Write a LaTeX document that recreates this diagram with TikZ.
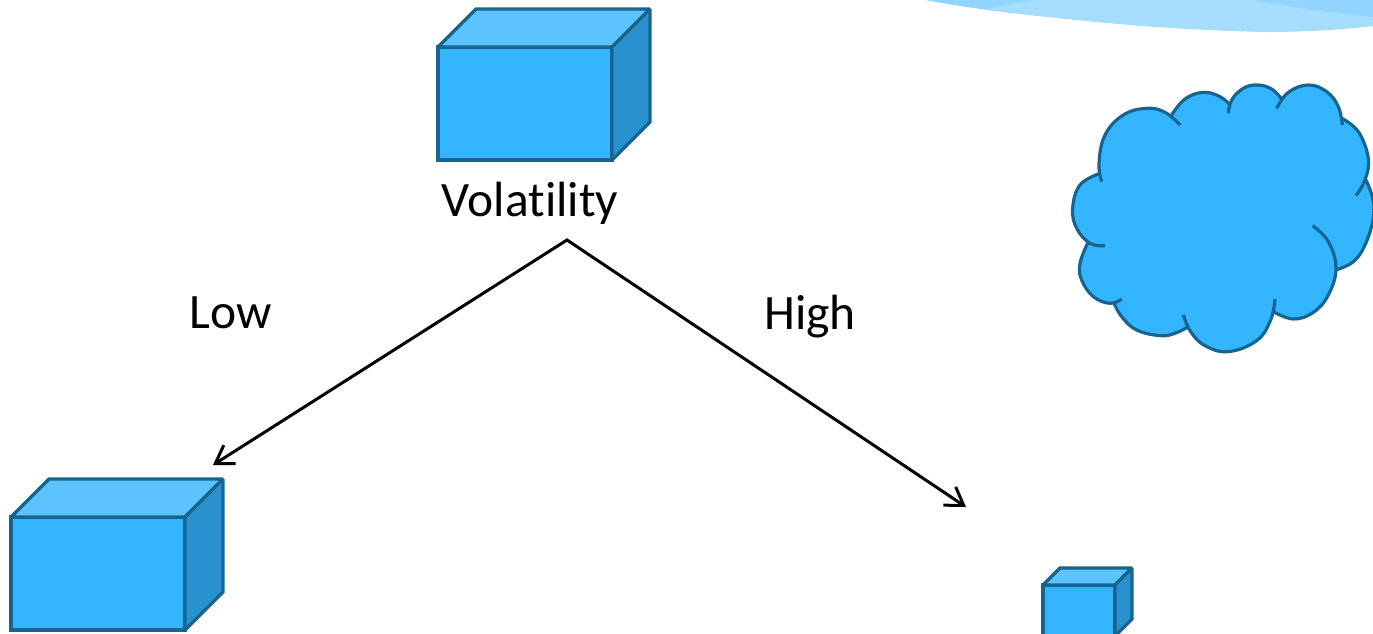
\documentclass[tikz,border=0pt]{standalone}
\usepackage{fontspec}
\setmainfont{Carlito}
\usetikzlibrary{arrows.meta}
\definecolor{frontc}{HTML}{33B5FF}
\definecolor{topc}{HTML}{5CC3FF}
\definecolor{sidec}{HTML}{2A91CF}
\definecolor{edgec}{HTML}{17658F}
\definecolor{wavea}{HTML}{A6DCFD}
\definecolor{waveb}{HTML}{90D5FD}
\tikzset{
  facefront/.style={fill=frontc,draw=edgec,line width=3.3pt,line join=miter},
  facetop/.style={fill=topc,draw=edgec,line width=3.3pt,line join=miter,miter limit=2},
  faceside/.style={fill=sidec,draw=edgec,line width=3.3pt,line join=miter,miter limit=2},
  lobe/.style={draw=edgec,line width=3.2pt,line cap=butt},
  lobefill/.style={fill=frontc,draw=none},
  textlabel/.style={font=\fontsize{49.5}{54}\selectfont,text=black,inner sep=0pt,anchor=base},
  branch/.style={draw=black,line width=3pt,line join=miter,>={Straight Barb[length=17pt,width=22pt,line width=3pt]},<->},
  arcs/.style={smooth,tension=0.68}
}
\newcommand{\cube}[5]{%
  \draw[facefront] (#1,#2) rectangle (#3,#4);
  \draw[facetop] (#1,#2) -- ({#1+#5},{#2-#5}) -- ({#3+#5},{#2-#5}) -- (#3,#2) -- cycle;
  \draw[faceside] (#3,#2) -- ({#3+#5},{#2-#5}) -- ({#3+#5},{#4-#5}) -- (#3,#4) -- cycle;
}
\newcommand{\lobeA}{(125,320)(117,265)(135,180)(190,120)(260,100)(315,112)(360,150)}
\newcommand{\lobeB}{(335,120)(375,72)(430,52)(480,65)(510,90)}
\newcommand{\lobeC}{(505,115)(515,75)(550,40)(592,30)(635,42)(665,72)}
\newcommand{\lobeD}{(650,100)(685,52)(745,30)(800,50)(835,95)(847,150)}
\newcommand{\lobeE}{(845,130)(895,170)(925,250)(915,315)(888,362)}
\newcommand{\lobeF}{(918,315)(938,370)(940,430)(915,510)(880,560)(828,585)}
\newcommand{\lobeG}{(758,452)(805,500)(828,580)(805,660)(760,712)(700,732)(640,710)}
\newcommand{\lobeH}{(645,672)(632,735)(590,797)(505,830)(435,812)(392,770)(370,720)}
\newcommand{\lobeI}{(385,755)(345,775)(300,782)(230,765)(185,725)(160,680)}
\newcommand{\lobeJ}{(185,672)(150,685)(100,665)(65,615)(60,565)(85,500)}
\newcommand{\lobeK}{(135,512)(90,505)(50,460)(38,400)(60,330)(120,295)}
\begin{document}
\begin{tikzpicture}[x=1pt,y=-1pt]
\useasboundingbox (0,0) rectangle (1373,633);
\begin{scope}
\clip (0,0) rectangle (1373,633);
% wave
\fill[waveb] (925,0) .. controls (1000,14) and (1100,24) .. (1267,32) -- (1373,26) -- (1373,0) -- cycle;
\fill[wavea] (987,9) .. controls (1000,6) and (1015,3) .. (1033,0) -- (1253,0) .. controls (1290,7) and (1330,13) .. (1373,17) -- (1373,26) .. controls (1340,30) and (1300,32) .. (1267,32) .. controls (1170,30) and (1080,22) .. (987,9) -- cycle;
% cubes
\cube{438}{47}{612}{160}{38}
\cube{11}{517}{185}{630}{38}
\cube{1043}{585}{1115}{636}{17}
% cloud
\begin{scope}[shift={(1060,75)},x=0.3333pt,y=-0.3333pt]
\path[lobefill] plot[arcs] coordinates {\lobeA} -- plot[arcs] coordinates {\lobeB} -- plot[arcs] coordinates {\lobeC} -- plot[arcs] coordinates {\lobeD} -- plot[arcs] coordinates {\lobeE} -- plot[arcs] coordinates {\lobeF} -- plot[arcs] coordinates {\lobeG} -- plot[arcs] coordinates {\lobeH} -- plot[arcs] coordinates {\lobeI} -- plot[arcs] coordinates {\lobeJ} -- plot[arcs] coordinates {\lobeK} -- cycle;
\path[lobe] plot[arcs] coordinates {\lobeA};
\path[lobe] plot[arcs] coordinates {\lobeB};
\path[lobe] plot[arcs] coordinates {\lobeC};
\path[lobe] plot[arcs] coordinates {\lobeD};
\path[lobe] plot[arcs] coordinates {\lobeE};
\path[lobe] plot[arcs] coordinates {\lobeF};
\path[lobe] plot[arcs] coordinates {\lobeG};
\path[lobe] plot[arcs] coordinates {\lobeH};
\path[lobe] plot[arcs] coordinates {\lobeI};
\path[lobe] plot[arcs] coordinates {\lobeJ};
\path[lobe] plot[arcs] coordinates {\lobeK};
\end{scope}
\end{scope}
% labels
\node[textlabel] (vol) at (530,216) {Volat\kern0pt ility};
\node[textlabel] (low) at (231,328) {Low};
\node[textlabel] (high) at (810,329) {High};
% connector
\coordinate (apex) at (567,240);
\coordinate (lowend) at (213,465);
\coordinate (highend) at (966,507);
\draw[branch] (lowend) -- (apex) -- (highend);
\end{tikzpicture}
\end{document}
